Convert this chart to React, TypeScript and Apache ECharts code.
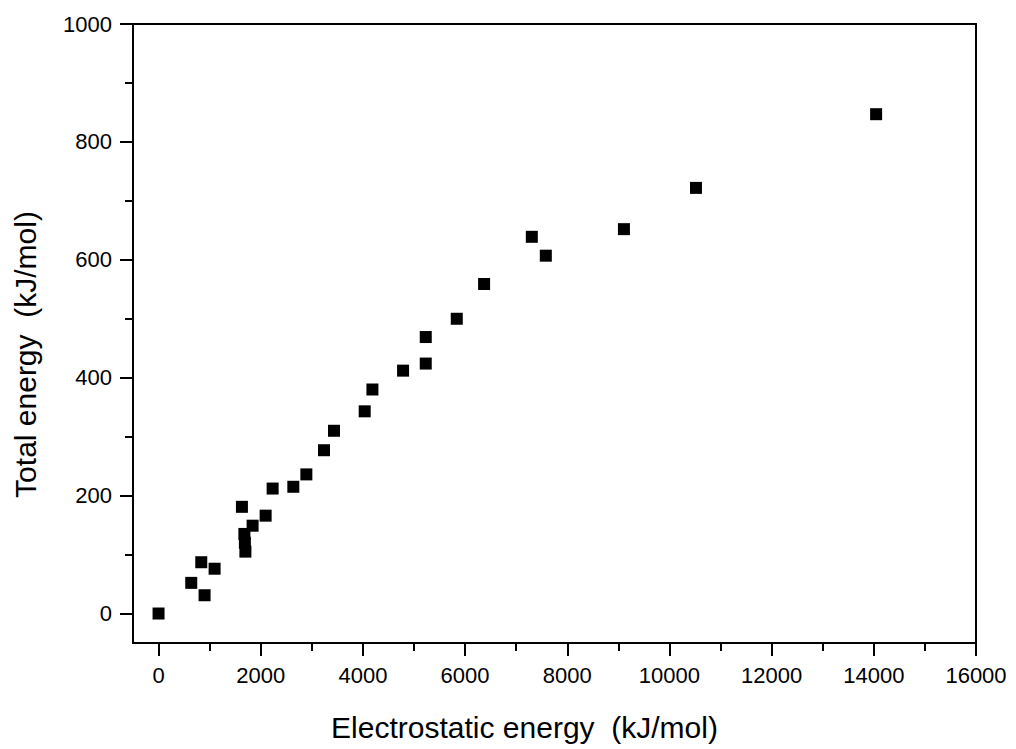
import React, { useEffect, useRef } from "react";
import * as echarts from "echarts";

const electrostatic = [0, 640, 836, 901, 1097, 1632, 1680, 1690, 1700, 1841, 2096, 2233, 2638, 2893, 3238, 3434, 4035, 4186, 4786, 5230, 5230, 5837, 6372, 7306, 7580, 9109, 10519, 14045];
const total = [0, 52, 87, 31, 76, 181, 135, 120, 105, 149, 166, 212, 215, 236, 277, 310, 343, 380, 412, 424, 469, 500, 559, 639, 607, 652, 722, 847];

const xMajor = [0, 2000, 4000, 6000, 8000, 10000, 12000, 14000, 16000];
const xMinor = [1000, 3000, 5000, 7000, 9000, 11000, 13000, 15000];
const yMajor = [0, 200, 400, 600, 800, 1000];
const yMinor = [100, 300, 500, 700, 900];

const FONT = "'Liberation Sans', Arial, sans-serif";

export default function App() {
  const ref = useRef<HTMLDivElement>(null);
  useEffect(() => {
    document.body.style.margin = "0";
    const chart = echarts.init(ref.current!, null, { renderer: "svg" });
    const hiddenLine = { show: false, onZero: false };
    const tickAxis = (vals: number[], len: number) => ({
      axisLine: hiddenLine,
      axisTick: { show: true, customValues: vals, length: len, inside: false, lineStyle: { color: "#000", width: 2 } },
      axisLabel: { show: false },
      splitLine: { show: false },
    });
    chart.setOption({
      animation: false,
      backgroundColor: "#fff",
      grid: {
        left: 133, right: 40, top: 24, bottom: 106,
        show: true, borderColor: "#000", borderWidth: 2, backgroundColor: "transparent",
      },
      xAxis: [
        {
          type: "value", min: -500, max: 16000, position: "bottom",
          axisLine: { show: true, onZero: false, lineStyle: { color: "#000", width: 2 } },
          axisTick: { show: false },
          axisLabel: {
            customValues: xMajor, fontSize: 22, color: "#000", fontFamily: FONT, margin: 21,
            formatter: (v: number) => String(v),
          },
          splitLine: { show: false },
          name: "Electrostatic energy  (kJ/mol)",
          nameLocation: "middle", nameGap: 69,
          nameTextStyle: { fontSize: 30, color: "#000", fontFamily: FONT, padding: [0, 60, 0, 0] },
        },
        { type: "value", min: -500, max: 16000, position: "bottom", ...tickAxis(xMajor, 13) },
        { type: "value", min: -500, max: 16000, position: "bottom", ...tickAxis(xMinor, 8) },
      ],
      yAxis: [
        {
          type: "value", min: -50, max: 1000, position: "left",
          axisLine: { show: true, onZero: false, lineStyle: { color: "#000", width: 2 } },
          axisTick: { show: false },
          axisLabel: {
            customValues: yMajor, fontSize: 22, color: "#000", fontFamily: FONT, margin: 21,
            formatter: (v: number) => String(v),
          },
          splitLine: { show: false },
          name: "Total energy  (kJ/mol)",
          nameLocation: "middle", nameGap: 93, nameRotate: 90,
          nameTextStyle: { fontSize: 30, color: "#000", fontFamily: FONT, padding: [0, 42, 0, 0] },
        },
        { type: "value", min: -50, max: 1000, position: "left", ...tickAxis(yMajor, 13) },
        { type: "value", min: -50, max: 1000, position: "left", ...tickAxis(yMinor, 8) },
      ],
      series: [
        {
          type: "scatter",
          xAxisIndex: 0, yAxisIndex: 0,
          symbol: "rect", symbolSize: 12,
          itemStyle: { color: "#000", opacity: 1 },
          emphasis: { disabled: true },
          data: electrostatic.map((x, i) => [x, total[i]]),
        },
      ],
    });
    return () => chart.dispose();
  }, []);
  return <div ref={ref} style={{ width: 1016, height: 749 }} />;
}
